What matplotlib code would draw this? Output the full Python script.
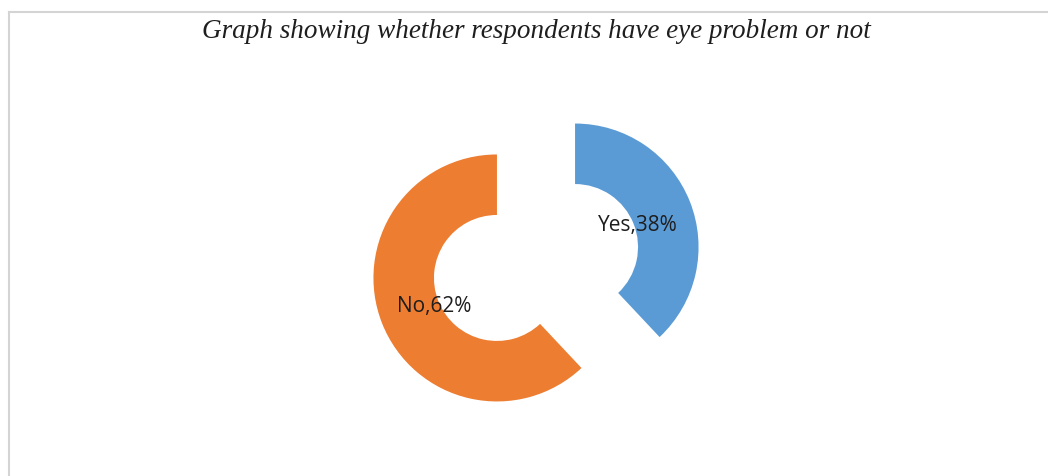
import matplotlib
matplotlib.use("Agg")
import matplotlib.pyplot as plt
from matplotlib.lines import Line2D

# data
categories = ["Yes", "No"]
values = [38, 62]
colors = ["#5B9BD5", "#ED7D31"]
title = "Graph showing whether respondents have eye problem or not"

W, H = 1048, 477
fig = plt.figure(figsize=(W / 100, H / 100), dpi=100)
ax = fig.add_axes([0, 0, 1, 1])

R = 123.5
labels_txt = [f"{c},{v}%" for c, v in zip(categories, values)]
it = iter(labels_txt)
wedges, texts, autotexts = ax.pie(
    values, colors=colors, startangle=90, counterclock=False,
    radius=R, center=(536, H - 263.5), explode=[42, 42],
    wedgeprops=dict(width=R * 0.49, linewidth=0),
    autopct=lambda p: next(it), pctdistance=0.55,
    textprops=dict(fontsize=15, color="#1e1e1e", family="Open Sans"),
    frame=True)
for t in autotexts:
    t.set_va("center_baseline")
ax.set_xlim(0, W)
ax.set_ylim(0, H)
ax.set_aspect("equal")
ax.axis("off")

fig.text(536 / W, 1 - 31 / H, title, ha="center", va="center",
         fontsize=19.5, style="italic", family="Liberation Serif", color="#1e1e1e")

# chart border (top and left visible)
fig.add_artist(Line2D([9 / W, 1], [1 - 13 / H, 1 - 13 / H], color="#d4d4d4", lw=1.5))
fig.add_artist(Line2D([9 / W, 9 / W], [0, 1 - 13 / H], color="#d4d4d4", lw=1.5))

fig.savefig("out.png", dpi=100, facecolor="white")
